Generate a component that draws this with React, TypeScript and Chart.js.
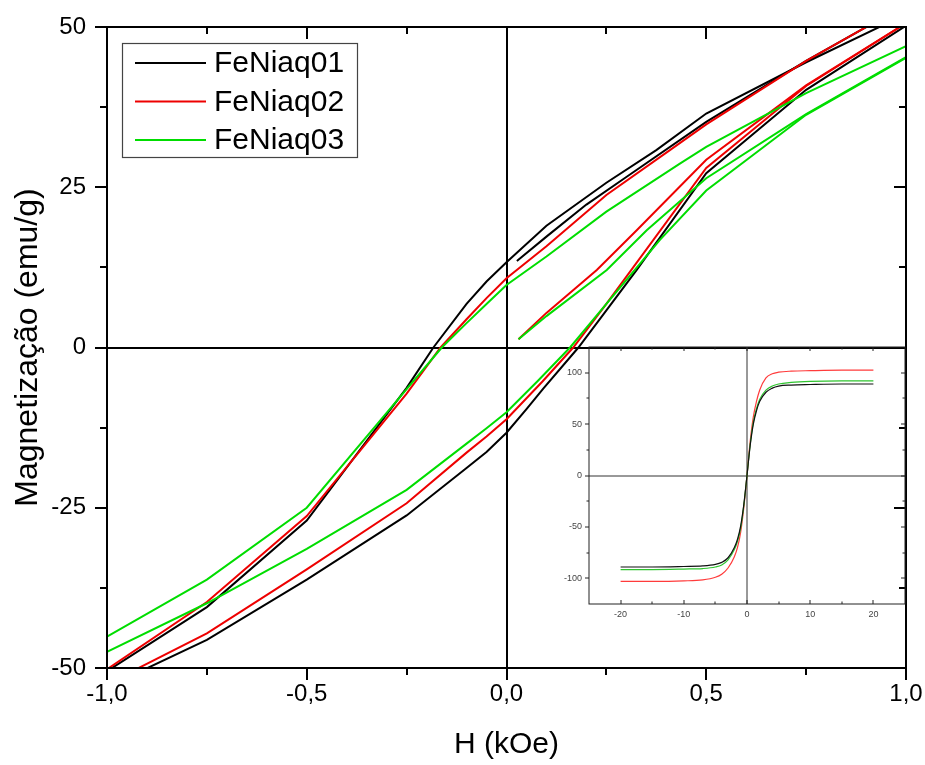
import React, { useEffect, useRef } from 'react';
import { Chart, registerables } from 'chart.js';

Chart.register(...registerables);

const FONT = "'Liberation Sans', Arial, Helvetica, sans-serif";

// ---------------- main chart data ----------------
const seriesNames = ['FeNiaq01', 'FeNiaq02', 'FeNiaq03'];
const seriesColors = ['#000000', '#ee0000', '#00dd00'];

const xTicks = [-1, -0.5, 0, 0.5, 1];
const xTickLabels = ['-1,0', '-0,5', '0,0', '0,5', '1,0'];
const xMinorTicks = [-0.75, -0.25, 0.25, 0.75];
const yTicks = [-50, -25, 0, 25, 50];
const yTickLabels = ['-50', '-25', '0', '25', '50'];
const yMinorTicks = [-37.5, -12.5, 12.5, 37.5];

// FeNiaq01 (black)
const blackInitH = [0.026, 0.1, 0.2, 0.3, 0.5, 0.75, 1.0];
const blackInitM = [13.5, 17.3, 22.3, 26.6, 35.2, 44.7, 53.5];
const blackUpperH = [1.0, 0.75, 0.5, 0.375, 0.25, 0.1, 0, -0.05, -0.1, -0.183, -0.25, -0.5, -0.75, -1.0];
const blackUpperM = [52, 44.5, 36.5, 30.8, 25.7, 19, 13.3, 10.3, 6.8, 0, -6.3, -27, -40.5, -50.5];
const blackLowerH = [-1.0, -0.75, -0.5, -0.25, -0.1, -0.05, 0, 0.05, 0.092, 0.18, 0.25, 0.326, 0.5, 0.75, 1.0];
const blackLowerM = [-53, -45.6, -36.2, -26.2, -18.8, -16.3, -13.3, -9.6, -6.4, 0, 5.8, 12.1, 27.2, 40.2, 50.2];

// FeNiaq02 (red)
const redInitH = [0.03, 0.1, 0.226, 0.326, 0.5, 0.75, 1.0];
const redInitM = [1.3, 5.4, 12.1, 18.3, 29.3, 40.9, 50.6];
const redUpperH = [1.0, 0.75, 0.5, 0.409, 0.25, 0.1, 0, -0.05, -0.1, -0.165, -0.25, -0.5, -0.75, -1.0];
const redUpperM = [53.5, 44.7, 34.8, 30.8, 23.8, 15.8, 10.8, 7.7, 4.4, 0, -7.2, -26.3, -39.7, -50.2];
const redLowerH = [-1.0, -0.75, -0.5, -0.25, -0.1, -0.05, 0, 0.09, 0.167, 0.25, 0.5, 0.75, 1.0];
const redLowerM = [-52.5, -44.6, -34.6, -24.3, -16.4, -13.9, -11.2, -5.3, 0, 6.8, 28, 40.8, 50.6];

// FeNiaq03 (green)
const greenInitH = [0.03, 0.1, 0.251, 0.351, 0.5, 0.75, 1.0];
const greenInitM = [1.3, 4.9, 12.1, 18.3, 26.4, 36.4, 45.3];
const greenUpperH = [1.0, 0.75, 0.5, 0.434, 0.25, 0.1, 0, -0.05, -0.1, -0.162, -0.25, -0.5, -0.75, -1.0];
const greenUpperM = [47, 39.7, 31.3, 28.7, 21.2, 14.2, 9.75, 6.8, 3.8, 0, -6.5, -25, -36.2, -45.1];
const greenLowerH = [-1.0, -0.75, -0.5, -0.25, -0.1, -0.05, 0, 0.08, 0.159, 0.25, 0.384, 0.5, 0.75, 1.0];
const greenLowerM = [-47.5, -39.9, -31.4, -22.2, -15.0, -12.6, -10.1, -5.1, 0, 6.8, 16.8, 24.5, 36.3, 45.2];

// ---------------- inset data ----------------
const insetH = [-20, -15, -10, -7, -5, -4, -3, -2, -1.5, -1, -0.5, 0, 0.5, 1, 1.5, 2, 3, 4, 5, 7, 10, 15, 20];
const insetBlackM = [-89, -89, -88.5, -88, -86.5, -84.5, -80, -70, -62, -49, -28, 0, 29, 50, 63, 72, 81, 85, 87, 88, 88.5, 89, 89];
const insetGreenM = [-91.5, -91.5, -91, -90.5, -89, -87, -82, -72, -64, -51, -29, 0, 30, 52, 65, 74, 83, 87, 89, 90.5, 91.5, 92, 92];
const insetRedM = [-103, -103, -102.5, -101.5, -99, -96, -90, -79, -70, -55, -31, 0, 33, 57, 72, 83, 95, 99, 100.5, 101.5, 102, 102.5, 102.5];
const insetColors = ['#111111', '#ff3b3b', '#2fc42f'];
const insetXTicks = [-20, -10, 0, 10, 20];
const insetXMinor = [-15, -5, 5, 15];
const insetYTicks = [-100, -50, 0, 50, 100];
const insetYMinor = [-75, -25, 25, 75];

type Side = { values: number[]; len: number; dir: 'in' | 'out' };

function makeFramePlugin(cfg: {
  id: string;
  color: string;
  lineWidth: number;
  zeroColor: string;
  zeroWidth: number;
  top: Side[];
  bottom: Side[];
  left: Side[];
  right: Side[];
  legend?: boolean;
}) {
  return {
    id: cfg.id,
    beforeDatasetsDraw(chart: any) {
      const { ctx, chartArea: a, scales } = chart;
      const x0 = Math.round(scales.x.getPixelForValue(0));
      const y0 = Math.round(scales.y.getPixelForValue(0));
      ctx.save();
      ctx.strokeStyle = cfg.zeroColor;
      ctx.lineWidth = cfg.zeroWidth;
      ctx.beginPath();
      ctx.moveTo(x0, a.top);
      ctx.lineTo(x0, a.bottom);
      ctx.moveTo(a.left, y0);
      ctx.lineTo(a.right, y0);
      ctx.stroke();
      ctx.restore();
    },
    afterDatasetsDraw(chart: any) {
      const { ctx, chartArea: a, scales } = chart;
      ctx.save();
      ctx.strokeStyle = cfg.color;
      ctx.lineWidth = cfg.lineWidth;
      ctx.strokeRect(a.left, a.top, a.right - a.left, a.bottom - a.top);
      ctx.beginPath();
      cfg.top.forEach((s) =>
        s.values.forEach((v) => {
          const x = Math.round(scales.x.getPixelForValue(v));
          ctx.moveTo(x, a.top);
          ctx.lineTo(x, s.dir === 'in' ? a.top + s.len : a.top - s.len);
        })
      );
      cfg.bottom.forEach((s) =>
        s.values.forEach((v) => {
          const x = Math.round(scales.x.getPixelForValue(v));
          ctx.moveTo(x, a.bottom);
          ctx.lineTo(x, s.dir === 'in' ? a.bottom - s.len : a.bottom + s.len);
        })
      );
      cfg.left.forEach((s) =>
        s.values.forEach((v) => {
          const y = Math.round(scales.y.getPixelForValue(v));
          ctx.moveTo(a.left, y);
          ctx.lineTo(s.dir === 'in' ? a.left + s.len : a.left - s.len, y);
        })
      );
      cfg.right.forEach((s) =>
        s.values.forEach((v) => {
          const y = Math.round(scales.y.getPixelForValue(v));
          ctx.moveTo(a.right, y);
          ctx.lineTo(s.dir === 'in' ? a.right - s.len : a.right + s.len, y);
        })
      );
      ctx.stroke();

      if (cfg.legend) {
        const bx = 122, by = 43, bw = 235, bh = 114;
        ctx.fillStyle = '#ffffff';
        ctx.fillRect(bx, by, bw, bh);
        ctx.strokeStyle = '#444444';
        ctx.lineWidth = 1.2;
        ctx.strokeRect(bx + 0.5, by + 0.5, bw, bh);
        const rows = [63, 101.5, 140];
        seriesNames.forEach((name, i) => {
          ctx.strokeStyle = seriesColors[i];
          ctx.lineWidth = 2;
          ctx.beginPath();
          ctx.moveTo(135, rows[i]);
          ctx.lineTo(206, rows[i]);
          ctx.stroke();
          ctx.fillStyle = '#000000';
          ctx.font = `30px ${FONT}`;
          ctx.textBaseline = 'middle';
          ctx.textAlign = 'left';
          ctx.fillText(name, 214, rows[i] + 1);
        });
      }
      ctx.restore();
    },
  };
}

function pts(h: number[], m: number[]) {
  return h.map((x, i) => ({ x, y: m[i] }));
}

const fixX = (height: number) => (s: any) => {
  s.height = height;
  s.paddingLeft = 0;
  s.paddingRight = 0;
};
const fixY = (width: number) => (s: any) => {
  s.width = width;
  s.paddingTop = 0;
  s.paddingBottom = 0;
};

export default function App() {
  const mainRef = useRef<HTMLCanvasElement | null>(null);
  const insetRef = useRef<HTMLCanvasElement | null>(null);

  useEffect(() => {
    const branches = [
      { s: 0, h: blackInitH, m: blackInitM },
      { s: 0, h: blackUpperH, m: blackUpperM },
      { s: 0, h: blackLowerH, m: blackLowerM },
      { s: 1, h: redInitH, m: redInitM },
      { s: 1, h: redUpperH, m: redUpperM },
      { s: 1, h: redLowerH, m: redLowerM },
      { s: 2, h: greenInitH, m: greenInitM },
      { s: 2, h: greenUpperH, m: greenUpperM },
      { s: 2, h: greenLowerH, m: greenLowerM },
    ];
    const datasets = branches.map((b) => ({
      label: seriesNames[b.s],
      data: pts(b.h, b.m),
      borderColor: seriesColors[b.s],
      backgroundColor: seriesColors[b.s],
      borderWidth: 2,
      pointRadius: 0,
      showLine: true,
      fill: false,
      tension: 0,
      order: 3 - b.s,
    }));

    const mainFrame = makeFramePlugin({
      id: 'mainFrame',
      color: '#000000',
      lineWidth: 2,
      zeroColor: '#000000',
      zeroWidth: 2,
      top: [{ values: xTicks, len: 12, dir: 'in' }, { values: xMinorTicks, len: 7, dir: 'in' }],
      bottom: [{ values: xTicks, len: 12, dir: 'out' }, { values: xMinorTicks, len: 7, dir: 'out' }],
      left: [{ values: yTicks, len: 12, dir: 'out' }, { values: yMinorTicks, len: 7, dir: 'out' }],
      right: [{ values: yTicks, len: 12, dir: 'in' }, { values: yMinorTicks, len: 7, dir: 'in' }],
      legend: true,
    });

    const main = new Chart(mainRef.current as HTMLCanvasElement, {
      type: 'scatter',
      data: { datasets: datasets as any },
      options: {
        animation: false,
        responsive: false,
        maintainAspectRatio: false,
        layout: { padding: { top: 27, right: 19, left: 0, bottom: 0 } },
        plugins: { legend: { display: false }, tooltip: { enabled: false } },
        scales: {
          x: {
            type: 'linear',
            position: 'bottom',
            min: -1,
            max: 1,
            afterFit: fixX(97),
            afterBuildTicks: (s: any) => {
              s.ticks = xTicks.map((v) => ({ value: v }));
            },
            grid: { display: false, drawTicks: false },
            border: { display: false },
            ticks: {
              autoSkip: false,
              maxRotation: 0,
              padding: 12,
              color: '#000000',
              font: { family: FONT, size: 24 },
              callback: (v: any) => xTickLabels[xTicks.indexOf(Number(v))] ?? '',
            },
            title: {
              display: true,
              text: 'H (kOe)',
              color: '#000000',
              font: { family: FONT, size: 30 },
              padding: { top: 0, bottom: 2 },
            },
          },
          y: {
            type: 'linear',
            position: 'left',
            min: -50,
            max: 50,
            afterFit: fixY(107),
            afterBuildTicks: (s: any) => {
              s.ticks = yTicks.map((v) => ({ value: v }));
            },
            grid: { display: false, drawTicks: false },
            border: { display: false },
            ticks: {
              autoSkip: false,
              padding: 21,
              color: '#000000',
              font: { family: FONT, size: 24 },
              callback: (v: any) => yTickLabels[yTicks.indexOf(Number(v))] ?? '',
            },
            title: {
              display: true,
              text: 'Magnetização (emu/g)',
              color: '#000000',
              font: { family: FONT, size: 32 },
              padding: { top: 9, bottom: 0 },
            },
          },
        },
      },
      plugins: [mainFrame as any],
    });

    const insetSeries = [
      { m: insetRedM, c: insetColors[1] },
      { m: insetGreenM, c: insetColors[2] },
      { m: insetBlackM, c: insetColors[0] },
    ];
    const insetDatasets = insetSeries.map((s, i) => ({
      label: 'inset' + i,
      data: pts(insetH, s.m),
      borderColor: s.c,
      backgroundColor: s.c,
      borderWidth: 1.2,
      pointRadius: 0,
      showLine: true,
      fill: false,
      cubicInterpolationMode: 'monotone',
      order: 3 - i,
    }));

    const insetFrame = makeFramePlugin({
      id: 'insetFrame',
      color: '#222222',
      lineWidth: 1,
      zeroColor: '#333333',
      zeroWidth: 1,
      top: [{ values: insetXTicks, len: 4, dir: 'in' }, { values: insetXMinor, len: 2.5, dir: 'in' }],
      bottom: [{ values: insetXTicks, len: 4, dir: 'in' }, { values: insetXMinor, len: 2.5, dir: 'in' }],
      left: [{ values: insetYTicks, len: 4, dir: 'out' }, { values: insetYMinor, len: 2.5, dir: 'out' }],
      right: [{ values: insetYTicks, len: 4, dir: 'in' }, { values: insetYMinor, len: 2.5, dir: 'in' }],
    });

    const inset = new Chart(insetRef.current as HTMLCanvasElement, {
      type: 'scatter',
      data: { datasets: insetDatasets as any },
      options: {
        animation: false,
        responsive: false,
        maintainAspectRatio: false,
        layout: { padding: { top: 7, right: 1, left: 0, bottom: 0 } },
        plugins: { legend: { display: false }, tooltip: { enabled: false } },
        scales: {
          x: {
            type: 'linear',
            min: -25,
            max: 25,
            afterFit: fixX(21),
            afterBuildTicks: (s: any) => {
              s.ticks = insetXTicks.map((v) => ({ value: v }));
            },
            grid: { display: false, drawTicks: false },
            border: { display: false },
            ticks: {
              autoSkip: false,
              maxRotation: 0,
              padding: 5,
              color: '#444444',
              font: { family: FONT, size: 9 },
              callback: (v: any) => String(v),
            },
          },
          y: {
            type: 'linear',
            min: -125,
            max: 125,
            afterFit: fixY(34),
            afterBuildTicks: (s: any) => {
              s.ticks = insetYTicks.map((v) => ({ value: v }));
            },
            grid: { display: false, drawTicks: false },
            border: { display: false },
            ticks: {
              autoSkip: false,
              padding: 7,
              color: '#444444',
              font: { family: FONT, size: 9 },
              callback: (v: any) => String(v),
            },
          },
        },
      },
      plugins: [insetFrame as any],
    });

    return () => {
      main.destroy();
      inset.destroy();
    };
  }, []);

  return (
    <div style={{ position: 'fixed', left: 0, top: 0, width: 925, height: 765, background: '#ffffff' }}>
      <canvas
        ref={mainRef}
        width={925}
        height={765}
        style={{ position: 'absolute', left: 0, top: 0, width: 925, height: 765 }}
      />
      <canvas
        ref={insetRef}
        width={351}
        height={285}
        style={{ position: 'absolute', left: 555, top: 340, width: 351, height: 285 }}
      />
    </div>
  );
}
